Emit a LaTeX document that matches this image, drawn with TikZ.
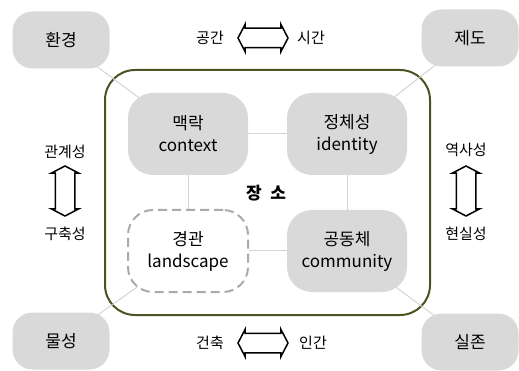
\documentclass[tikz,border=0pt]{standalone}
\usepackage{fontspec}
\setmainfont{Noto Sans CJK KR}
\usetikzlibrary{shapes.arrows,backgrounds}
\definecolor{boxgray}{RGB}{217,217,217}
\definecolor{linkgray}{RGB}{212,212,212}
\definecolor{placeline}{RGB}{78,82,34}
\definecolor{dashgray}{RGB}{170,170,170}
\begin{document}
\begin{tikzpicture}[x=1pt,y=-1pt,
  box/.style={rectangle,rounded corners=20pt,fill=boxgray,minimum width=97pt,minimum height=57pt,font=\fontsize{17}{22}\selectfont},
  inbox/.style={rectangle,rounded corners=25pt,fill=boxgray,minimum width=120pt,minimum height=82pt,align=center,font=\fontsize{17}{22}\selectfont},
  side/.style={font=\fontsize{15}{18}\selectfont},
  dbl/.style={double arrow,draw,fill=white,line width=1.5pt,minimum height=50pt,inner sep=0pt,double arrow head extend=4pt,double arrow tip angle=125},
  link/.style={draw=linkgray,line width=1pt}]
\useasboundingbox (0,0) rectangle (519,371);
\node[box] (ENV) at (61,40) {환경};
\node[box] (INS) at (470,38) {제도};
\node[box] (MAT) at (61,341) {물성};
\node[box] (EXI) at (470,342) {실존};
\node[inbox] (CTX) at (188,134) {맥락\\context};
\node[inbox] (IDN) at (347,134) {정체성\\identity};
\node[inbox,fill=white,draw=dashgray,line width=2pt,dash pattern=on 9pt off 5pt] (LND) at (188,251) {경관\\landscape};
\node[inbox] (COM) at (347,251) {공동체\\community};
\node[font=\fontsize{17}{20}\selectfont\bfseries] (PLC) at (266,193) {장\hspace{0.5em}소};
\node[side] (SPC) at (210,38) {공간};
\node[dbl] (AT) at (263,38) {\rule{0pt}{18pt}};
\node[side] (TIM) at (311,38) {시간};
\node[side] (ARC) at (210,343) {건축};
\node[dbl] (AB) at (263,343) {\rule{0pt}{18pt}};
\node[side] (HUM) at (313,343) {인간};
\node[side] (REL) at (65,152) {관계성};
\node[dbl,rotate=90] (AL) at (65,191) {\rule{0pt}{18pt}};
\node[side] (CON) at (65,234) {구축성};
\node[side] (HIS) at (466,150) {역사성};
\node[dbl,rotate=90] (AR) at (466,191) {\rule{0pt}{18pt}};
\node[side] (REA) at (466,234) {현실성};
\begin{scope}[on background layer]
\node[draw=placeline,line width=2pt,rounded corners=30pt,minimum width=325pt,minimum height=245pt,inner sep=0pt] (PLACE) at (267.5,192.5) {};
\path[link]
  (ENV.center) edge (CTX.center)
  (INS.center) edge (IDN.center)
  (MAT.center) edge (LND.center)
  (EXI.center) edge (COM.center)
  (CTX) edge (IDN)
  (CTX) edge (LND)
  (IDN) edge (COM)
  (LND) edge (COM)
;
\end{scope}
\end{tikzpicture}
\end{document}
